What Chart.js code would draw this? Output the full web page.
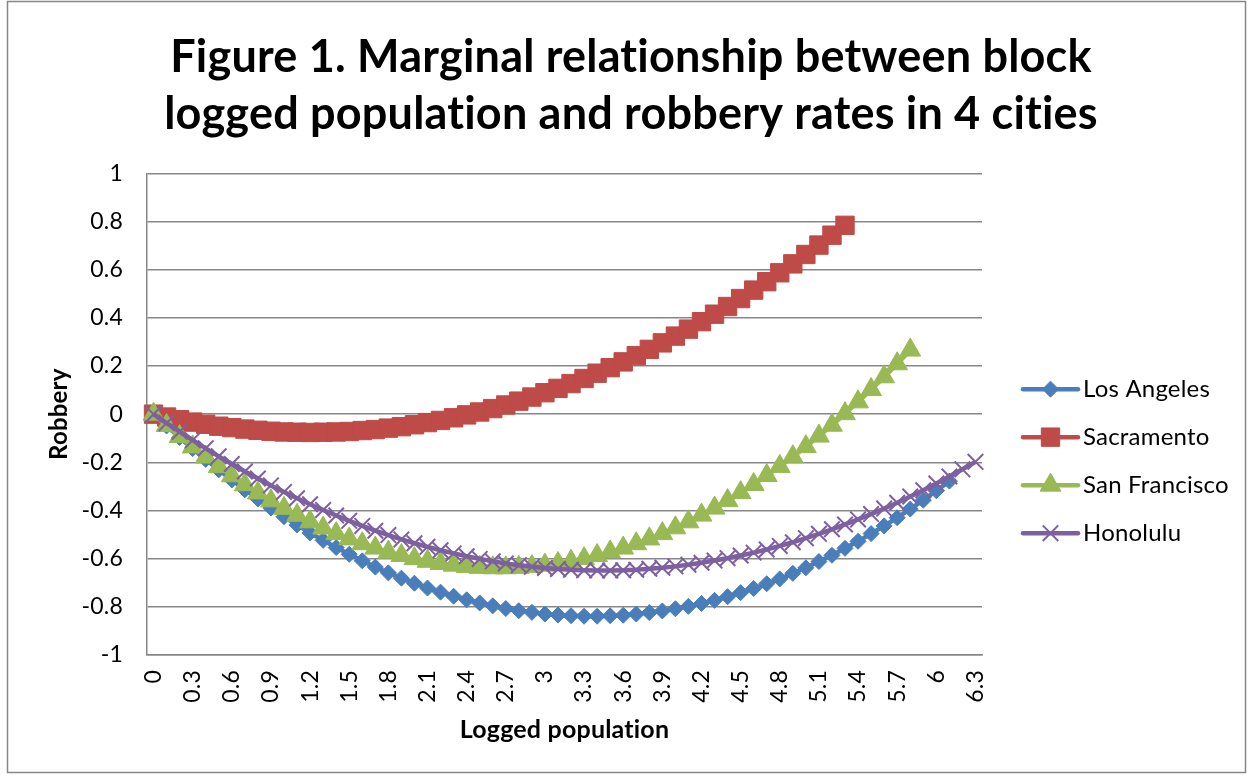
<!DOCTYPE html>
<html><head><meta charset="utf-8">
<script src="https://cdn.jsdelivr.net/npm/chart.js@4/dist/chart.umd.min.js"></script>
<style>html,body{margin:0;padding:0;background:#fff;}canvas{display:block;}</style>
</head><body>
<canvas id="c" width="1253" height="779"></canvas>
<script>
const categories = ["0","0.1","0.2","0.3","0.4","0.5","0.6","0.7","0.8","0.9",
  "1","1.1","1.2","1.3","1.4","1.5","1.6","1.7","1.8","1.9",
  "2","2.1","2.2","2.3","2.4","2.5","2.6","2.7","2.8","2.9",
  "3","3.1","3.2","3.3","3.4","3.5","3.6","3.7","3.8","3.9",
  "4","4.1","4.2","4.3","4.4","4.5","4.6","4.7","4.8","4.9",
  "5","5.1","5.2","5.3","5.4","5.5","5.6","5.7","5.8","5.9",
  "6","6.1","6.2","6.3"];

const losAngeles = [0,-0.049,-0.097,-0.143,-0.188,-0.231,-0.273,-0.314,-0.352,-0.390,
  -0.426,-0.460,-0.493,-0.524,-0.554,-0.582,-0.609,-0.635,-0.659,-0.681,
  -0.702,-0.722,-0.739,-0.756,-0.771,-0.784,-0.796,-0.807,-0.816,-0.823,
  -0.830,-0.834,-0.837,-0.839,-0.839,-0.837,-0.835,-0.830,-0.824,-0.817,
  -0.808,-0.798,-0.786,-0.773,-0.758,-0.741,-0.724,-0.704,-0.684,-0.661,
  -0.638,-0.612,-0.586,-0.557,-0.528,-0.496,-0.464,-0.430,-0.394,-0.357,
  -0.318,-0.278];

const sacramento = [0,-0.012,-0.023,-0.033,-0.042,-0.050,-0.056,-0.062,-0.067,-0.071,
  -0.074,-0.075,-0.076,-0.075,-0.074,-0.072,-0.068,-0.064,-0.058,-0.052,
  -0.044,-0.035,-0.026,-0.015,-0.003,0.009,0.023,0.038,0.054,0.071,
  0.089,0.107,0.127,0.148,0.170,0.193,0.217,0.243,0.269,0.296,
  0.324,0.353,0.384,0.415,0.447,0.480,0.515,0.550,0.587,0.624,
  0.663,0.702,0.743,0.784];

const sanFrancisco = [0,-0.047,-0.093,-0.136,-0.178,-0.218,-0.256,-0.293,-0.327,-0.360,
  -0.391,-0.420,-0.447,-0.473,-0.496,-0.518,-0.538,-0.556,-0.573,-0.587,
  -0.600,-0.611,-0.620,-0.627,-0.633,-0.636,-0.638,-0.638,-0.636,-0.633,
  -0.627,-0.620,-0.611,-0.600,-0.587,-0.572,-0.556,-0.538,-0.518,-0.496,
  -0.472,-0.447,-0.419,-0.390,-0.359,-0.326,-0.292,-0.255,-0.217,-0.177,
  -0.135,-0.091,-0.046,0.002,0.051,0.102,0.155,0.209,0.266];

const honolulu = [0,-0.037,-0.073,-0.108,-0.142,-0.175,-0.207,-0.238,-0.267,-0.296,
  -0.323,-0.349,-0.374,-0.398,-0.421,-0.443,-0.464,-0.484,-0.502,-0.520,
  -0.536,-0.551,-0.565,-0.578,-0.590,-0.601,-0.611,-0.620,-0.627,-0.634,
  -0.639,-0.643,-0.646,-0.648,-0.649,-0.649,-0.648,-0.646,-0.642,-0.638,
  -0.632,-0.625,-0.617,-0.608,-0.598,-0.587,-0.575,-0.562,-0.547,-0.532,
  -0.515,-0.497,-0.478,-0.458,-0.437,-0.415,-0.392,-0.368,-0.342,-0.316,
  -0.288,-0.259,-0.229,-0.198];

const seriesNames = ["Los Angeles","Sacramento","San Francisco","Honolulu"];
const seriesColors = ["#4A7EBB","#BE4B48","#98B954","#7D60A0"];
const yMin = -1, yMax = 1, yStep = 0.2;
const titleLines = ["Figure 1. Marginal relationship between block","logged population and robbery rates in 4 cities"];

const FONT = 'Lato, "Liberation Sans", sans-serif';
const GRID = '#878787';

function markerPath(ctx, style, r, x, y) {
  ctx.beginPath();
  if (style === 'rect') { const s = Math.SQRT1_2 * r; ctx.rect(x - s, y - s, 2 * s, 2 * s); }
  else if (style === 'rectRot') { ctx.moveTo(x - r, y); ctx.lineTo(x, y - r); ctx.lineTo(x + r, y); ctx.lineTo(x, y + r); ctx.closePath(); }
  else if (style === 'triangle') {
    let a = 0; ctx.moveTo(x + Math.sin(a) * r, y - Math.cos(a) * r);
    a += 2 * Math.PI / 3; ctx.lineTo(x + Math.sin(a) * r, y - Math.cos(a) * r);
    a += 2 * Math.PI / 3; ctx.lineTo(x + Math.sin(a) * r, y - Math.cos(a) * r); ctx.closePath();
  } else if (style === 'crossRot') {
    const d = Math.SQRT1_2 * r; ctx.moveTo(x - d, y - d); ctx.lineTo(x + d, y + d); ctx.moveTo(x + d, y - d); ctx.lineTo(x - d, y + d);
  }
}

const framePlugin = {
  id: 'frame',
  beforeDraw(chart) {
    const ctx = chart.ctx;
    ctx.letterSpacing = '0.2px';
    ctx.save();
    ctx.fillStyle = '#fff'; ctx.fillRect(0, 0, chart.width, chart.height);
    ctx.strokeStyle = GRID; ctx.lineWidth = 1.5;
    ctx.strokeRect(7.5, 1.5, chart.width - 15, chart.height - 8);
    ctx.restore();
  }
};

const sideLegend = {
  id: 'sideLegend',
  afterDraw(chart) {
    const { ctx, chartArea } = chart;
    const cy = (chartArea.top + chartArea.bottom) / 2;
    chart.data.datasets.forEach((ds, i) => {
      const y = cy - 25 + i * 48;
      const x0 = chartArea.right + 41;
      ctx.save();
      ctx.strokeStyle = ds.borderColor; ctx.lineWidth = ds.borderWidth; ctx.lineCap = 'round';
      ctx.beginPath(); ctx.moveTo(x0, y); ctx.lineTo(x0 + 55, y); ctx.stroke();
      ctx.lineCap = 'butt';
      ctx.fillStyle = ds.pointBackgroundColor; ctx.strokeStyle = ds.pointBorderColor; ctx.lineWidth = ds.pointBorderWidth;
      markerPath(ctx, ds.pointStyle, ds.pointRadius, x0 + 27.5, y);
      if (ds.pointStyle !== 'crossRot') ctx.fill();
      ctx.stroke();
      ctx.fillStyle = '#000'; ctx.font = '24px ' + FONT; ctx.textBaseline = 'middle'; ctx.textAlign = 'left';
      ctx.fillText(ds.label, x0 + 60, y);
      ctx.restore();
    });
  }
};

const styles = [
  { pointStyle: 'rectRot', pointRadius: 8, pointBorderWidth: 1, order: 4 },
  { pointStyle: 'rect', pointRadius: 13, pointBorderWidth: 1, order: 3 },
  { pointStyle: 'triangle', pointRadius: 12, pointBorderWidth: 1, order: 2 },
  { pointStyle: 'crossRot', pointRadius: 11, pointBorderWidth: 2, order: 1 }
];
const seriesData = [losAngeles, sacramento, sanFrancisco, honolulu];

const datasets = seriesData.map((d, i) => Object.assign({
  label: seriesNames[i], data: d,
  borderColor: seriesColors[i], backgroundColor: seriesColors[i],
  pointBackgroundColor: seriesColors[i], pointBorderColor: seriesColors[i],
  pointHoverRadius: styles[i].pointRadius,
  borderWidth: 4.5, tension: 0, clip: false, fill: false
}, styles[i]));

new Chart(document.getElementById('c'), {
  type: 'line',
  data: { labels: categories, datasets },
  plugins: [framePlugin, sideLegend],
  options: {
    responsive: false, animation: false, devicePixelRatio: 1,
    layout: { padding: { left: 9, right: 0, top: 0, bottom: 0 } },
    plugins: {
      legend: { display: false }, tooltip: { enabled: false },
      title: { display: true, text: titleLines, color: '#000',
        font: { family: FONT, size: 45, weight: 'bold', lineHeight: 1.27 },
        padding: { top: 29, bottom: 30 } }
    },
    scales: {
      x: {
        type: 'category', offset: true,
        grid: { display: false, drawTicks: false },
        border: { display: true, color: GRID, width: 1.5 },
        ticks: { autoSkip: false, minRotation: 90, maxRotation: 90, padding: 15, color: '#000',
          font: { family: FONT, size: 23 },
          callback: (v, i) => (i % 3 === 0 ? categories[i] : '') },
        title: { display: true, text: 'Logged population', color: '#000',
          font: { family: FONT, size: 25, weight: 'bold' }, padding: { top: 0, bottom: 34 } },
        afterFit: s => { s.height = 124; }
      },
      y: {
        min: yMin, max: yMax,
        ticks: { stepSize: yStep, padding: 24, color: '#000', font: { family: FONT, size: 23 },
          callback: v => { const r = Math.round(v * 10) / 10; return (r === 0 ? 0 : r).toString(); } },
        grid: { color: GRID, lineWidth: 1.5, drawTicks: false },
        border: { display: true, color: GRID, width: 1.5 },
        title: { display: true, text: 'Robbery', color: '#000',
          font: { family: FONT, size: 24, weight: 'bold' }, padding: { top: 36, bottom: 0 } },
        afterFit: s => { s.width = 138; }
      },
      yR: {
        type: 'linear', position: 'right', display: true,
        grid: { display: false, drawTicks: false }, border: { display: false },
        ticks: { display: false },
        afterFit: s => { s.width = 271; }
      }
    }
  }
});
</script>
</body></html>
